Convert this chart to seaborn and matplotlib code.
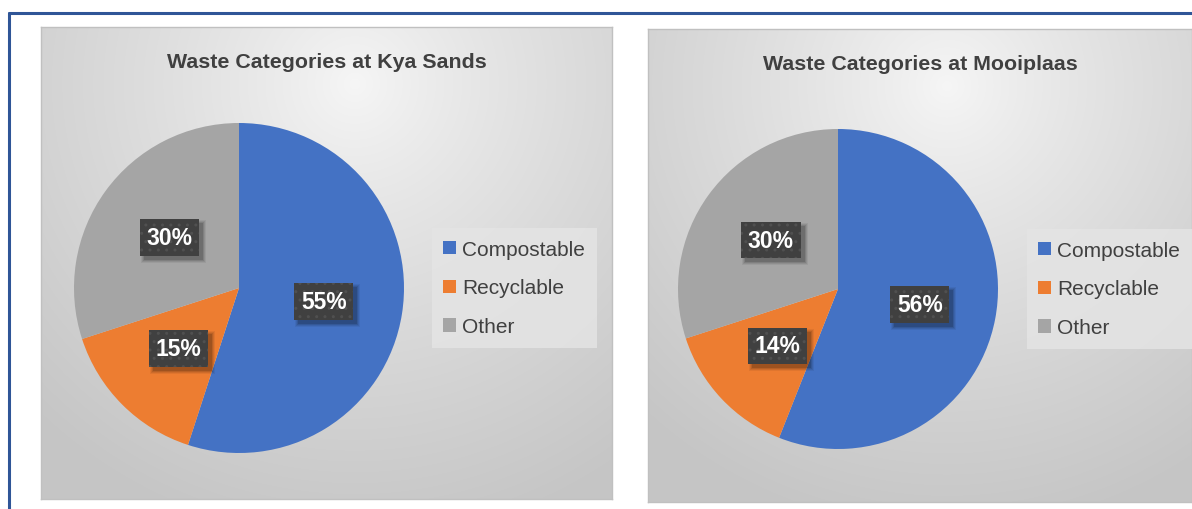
import numpy as np
import matplotlib
matplotlib.use('Agg')
import matplotlib.pyplot as plt
from matplotlib.lines import Line2D
from matplotlib.patches import Patch, Rectangle
from matplotlib.transforms import IdentityTransform
import seaborn as sns

categories = ["Compostable", "Recyclable", "Other"]
kya_sands = [55, 15, 30]
mooiplaas = [56, 14, 30]
titles = ["Waste Categories at Kya Sands", "Waste Categories at Mooiplaas"]
colors_hex = ["#4472C4", "#ED7D31", "#A5A5A5"]

sns.set_theme(style="white")
plt.rcParams['font.family'] = ['Liberation Sans', 'DejaVu Sans']
palette = sns.color_palette(colors_hex)

W, H = 1192, 510
fig = plt.figure(figsize=(W / 100, H / 100), dpi=100)
fig.patch.set_facecolor('white')


def fx(px):
    return px / W


def fy(py):
    return 1 - py / H


def box(x0, y0, x1, y1):
    return [x0 / W, 1 - y1 / H, (x1 - x0) / W, (y1 - y0) / H]


def gradient(w, h):
    xs = np.linspace(0, 1, w)[None, :]
    ys = np.linspace(0, 1, h)[:, None]
    d = np.sqrt(((xs - 0.55) * w) ** 2 + ((ys - 0.12) * h) ** 2) / (0.62 * np.hypot(w, h))
    d = np.clip(d, 0, 1) ** 0.85
    light = np.array([0.965, 0.965, 0.965])
    dark = np.array([0.775, 0.775, 0.775])
    return light[None, None, :] * (1 - d[..., None]) + dark[None, None, :] * d[..., None]


# outer frame
fig.add_artist(Line2D([fx(9), fx(9)], [fy(14), 0], color='#2F5597', lw=2.2))
fig.add_artist(Line2D([fx(9), 1], [fy(14), fy(14)], color='#2F5597', lw=2.2))

panels = [(41, 28, 612, 500), (648, 30, 1192, 503)]
pies = [(239, 289, 165), (838, 290, 160)]
legend_pos = [(432, 289), (1027, 290)]
datasets = [kya_sands, mooiplaas]
all_labels = []

for i in range(2):
    x0, y0, x1, y1 = panels[i]
    ax_bg = fig.add_axes(box(x0, y0, x1, y1))
    ax_bg.imshow(gradient(x1 - x0, y1 - y0), aspect='auto', extent=[0, 1, 0, 1], interpolation='bilinear')
    ax_bg.set_xticks([])
    ax_bg.set_yticks([])
    for s in ax_bg.spines.values():
        s.set_color('#c0c0c0')
        s.set_linewidth(1)
    ax_bg.text(0.5, 1 - 35 / (y1 - y0), titles[i], transform=ax_bg.transAxes,
               ha='center', va='center', fontsize=15.4, fontweight='bold', color='#404040')

    cx, cy, r = pies[i]
    ax = fig.add_axes(box(cx - r, cy - r, cx + r, cy + r))
    ax.patch.set_alpha(0)
    wedges, texts, autotexts = ax.pie(
        datasets[i], colors=palette, startangle=90, counterclock=False,
        autopct='%1.0f%%', pctdistance=0.52, radius=1,
        wedgeprops=dict(linewidth=0),
        textprops=dict(color='white', fontsize=16.5, fontweight='bold'))
    ax.set_xlim(-1, 1)
    ax.set_ylim(-1, 1)
    for t in autotexts:
        t.set_ha('center')
        t.set_va('center')
        t.set_zorder(5)
        t.set_bbox(dict(boxstyle='square,pad=0.3', facecolor='#404040', edgecolor='#505050',
                        linewidth=0, hatch='..'))
        all_labels.append((ax, t))

    handles = [Patch(facecolor=c, edgecolor='none') for c in palette]
    lx, ly = legend_pos[i]
    ax.legend(handles, categories, loc='center left', bbox_to_anchor=(fx(lx), fy(ly)),
              bbox_transform=fig.transFigure, frameon=True, fancybox=False,
              facecolor='#e4e4e4', edgecolor='none', framealpha=0.85,
              fontsize=15, handlelength=0.6, handleheight=0.6, handletextpad=0.3,
              labelspacing=0.95, borderpad=0.55, borderaxespad=0, labelcolor='#404040')

# soft drop shadows behind the data-label boxes
fig.canvas.draw()
for ax, t in all_labels:
    bb = t.get_bbox_patch().get_window_extent()
    for k, a in enumerate([0.06, 0.08, 0.10, 0.14]):
        grow = 3 - k
        ax.add_patch(Rectangle((bb.x0 + 4 - grow, bb.y0 - 4 - grow), bb.width + 2 * grow,
                               bb.height + 2 * grow, transform=IdentityTransform(),
                               facecolor='black', alpha=a, linewidth=0, zorder=4))

fig.savefig('out.png', dpi=100, facecolor='white')
